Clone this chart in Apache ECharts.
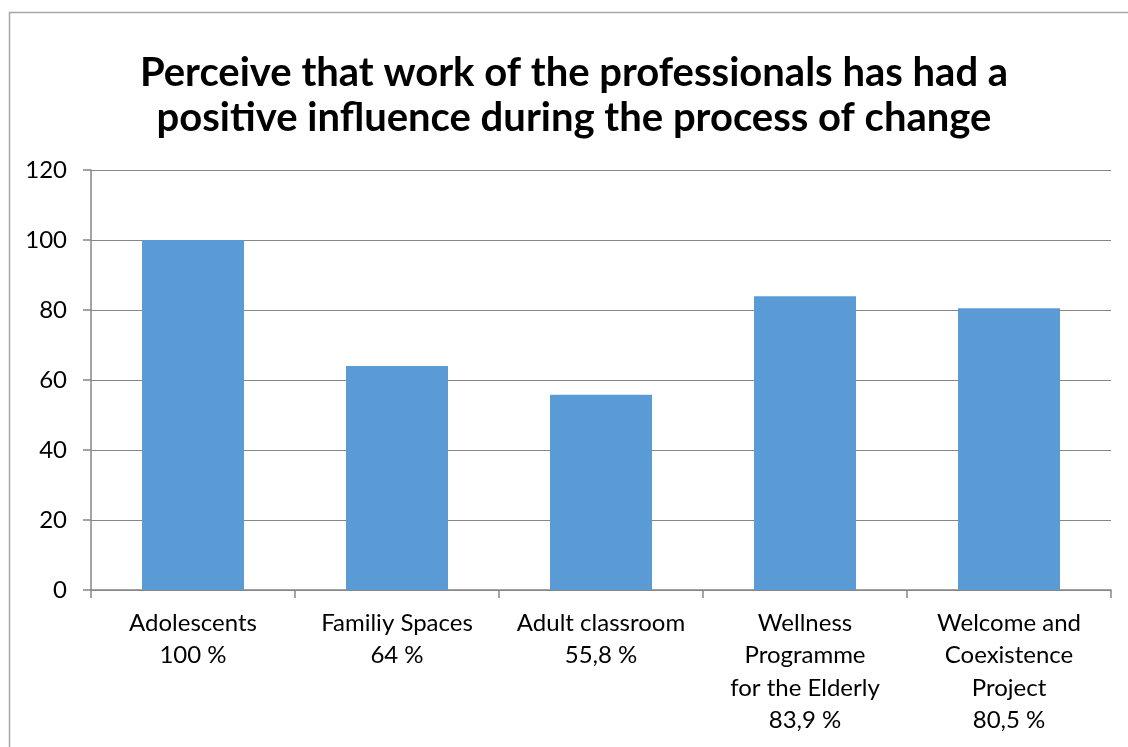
<!DOCTYPE html>
<html><head><meta charset="utf-8">
<script src="https://cdn.jsdelivr.net/npm/echarts@6/dist/echarts.min.js"></script>
<style>html,body{margin:0;padding:0;background:#fff}#c{width:1128px;height:747px}</style>
</head><body><div id="c"></div>
<script>
const categories = ["Adolescents\n100 %", "Familiy Spaces\n64 %", "Adult classroom\n55,8 %", "Wellness\nProgramme\nfor the Elderly\n83,9 %", "Welcome and\nCoexistence\nProject\n80,5 %"];
const values = [100, 64, 55.8, 83.9, 80.5];
const yTicks = [0, 20, 40, 60, 80, 100, 120];
const titleText = "Perceive that work of the professionals has had a\npositive influence during the process of change";

const chart = echarts.init(document.getElementById('c'));
chart.setOption({
  animation: false,
  backgroundColor: '#fff',
  textStyle: { fontFamily: 'Lato, sans-serif' },
  title: {
    text: titleText,
    left: 569, top: 46, textAlign: 'center',
    textStyle: { fontSize: 40, fontWeight: 'bold', color: '#000', lineHeight: 45, fontFamily: 'Lato, sans-serif' }
  },
  graphic: [{
    type: 'polyline', silent: true,
    shape: { points: [[9.5, 747], [9.5, 12.5], [1128, 12.5]] },
    style: { stroke: '#a6a6a6', lineWidth: 1.5, fill: null }
  }],
  grid: { left: 91, right: 17, top: 170, bottom: 157, containLabel: false },
  xAxis: {
    type: 'category', data: categories,
    axisLine: { lineStyle: { color: '#868686', width: 1.5 } },
    axisTick: { show: true, length: 8, alignWithLabel: false, lineStyle: { color: '#868686', width: 1.5 } },
    axisLabel: { color: '#000', fontSize: 24, lineHeight: 32.5, margin: 17, interval: 0, fontFamily: 'Lato, sans-serif' }
  },
  yAxis: {
    type: 'value', min: 0, max: 120, interval: 20,
    axisLine: { show: true, lineStyle: { color: '#868686', width: 1.5 } },
    axisTick: { show: true, length: 8, lineStyle: { color: '#868686', width: 1.5 } },
    splitLine: { lineStyle: { color: '#868686', width: 1 } },
    axisLabel: { color: '#000', fontSize: 24, margin: 24, fontFamily: 'Lato, sans-serif',
      formatter: v => yTicks.includes(v) ? String(v) : '' }
  },
  series: [{
    type: 'bar', data: values, barWidth: '50%',
    itemStyle: { color: '#5b9bd5' }
  }]
});
</script></body></html>
